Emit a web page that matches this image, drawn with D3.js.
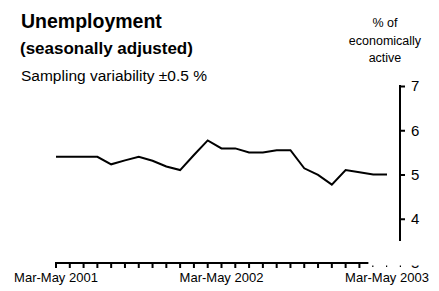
<!DOCTYPE html>
<html>
<head>
<meta charset="utf-8">
<script src="https://cdn.jsdelivr.net/npm/d3@7"></script>
<style>
body { margin: 0; background: #fff; }
text { font-family: "Liberation Sans", Arial, sans-serif; fill: #000; }
</style>
</head>
<body>
<div id="chart"></div>
<script>
// rolling three-month periods, Mar-May 2001 .. Mar-May 2003
var periods = d3.range(25);
var rates = [5.40, 5.40, 5.40, 5.40, 5.23, 5.32, 5.40, 5.31, 5.18, 5.10,
             5.44, 5.77, 5.59, 5.59, 5.50, 5.50, 5.55, 5.55, 5.14, 4.99,
             4.77, 5.10, 5.05, 5.00, 5.00];
var xLabels = [{i: 0, t: "Mar-May 2001"}, {i: 12, t: "Mar-May 2002"}, {i: 24, t: "Mar-May 2003"}];
var yTicks = [4, 5, 6, 7];
var unitLines = ["% of", "economically", "active"];

var W = 439, H = 291;

var svg = d3.select("#chart").append("svg")
    .attr("width", W)
    .attr("height", H);

var x = d3.scaleLinear().domain([0, 24]).range([56, 387]);
var y = d3.scaleLinear().domain([3, 7]).range([263, 86]);

// titles
svg.append("text").attr("x", 21).attr("y", 27.5)
    .style("font-size", "19.5px").style("font-weight", "bold")
    .text("Unemployment");
svg.append("text").attr("x", 20).attr("y", 54)
    .style("font-size", "17px").style("font-weight", "bold")
    .text("(seasonally adjusted)");
svg.append("text").attr("x", 21).attr("y", 81)
    .style("font-size", "15.5px")
    .text("Sampling variability \u00b10.5 %");

svg.selectAll(".unit")
    .data(unitLines)
    .enter().append("text")
    .attr("class", "unit")
    .attr("x", 385)
    .attr("y", function(d, i) { return 27 + i * 17.5; })
    .style("font-size", "12.5px")
    .style("text-anchor", "middle")
    .text(function(d) { return d; });

// x axis: solid line with ticks, last few ticks only faint stubs
var gx = svg.append("g")
    .attr("transform", "translate(0," + y(3) + ")");
gx.selectAll(".xtick")
    .data(d3.range(26))
    .enter().append("rect")
    .attr("class", "xtick")
    .attr("x", function(d) { return x(d) - 1; })
    .attr("y", function(d) { return d > 22 ? 2.5 : 0; })
    .attr("width", function(d) { return d > 22 ? 1.2 : 2; })
    .attr("height", function(d) { return d > 22 ? 1.5 : 5; })
    .attr("fill", "#000");
gx.append("rect")
    .attr("x", x(0) - 1).attr("y", -1)
    .attr("width", x(22.65) - x(0) + 1).attr("height", 2)
    .attr("fill", "#000");

svg.selectAll(".xlab")
    .data(xLabels)
    .enter().append("text")
    .attr("class", "xlab")
    .attr("x", function(d) { return x(d.i); })
    .attr("y", 282)
    .style("font-size", "13px")
    .style("text-anchor", "middle")
    .text(function(d) { return d.t; });

// y axis on the right
var yAxis = d3.axisRight(y)
    .tickValues(yTicks)
    .tickSize(5)
    .tickPadding(6)
    .tickSizeOuter(0)
    .tickFormat(d3.format("d"));
var gy = svg.append("g")
    .attr("transform", "translate(400,0)")
    .call(yAxis);
gy.select(".domain").remove();
gy.append("line")
    .attr("y1", y(7) - 1).attr("y2", y(3.5))
    .attr("stroke", "#000").attr("stroke-width", 2);
gy.selectAll(".tick line").attr("stroke", "#000").attr("stroke-width", 2);
gy.selectAll(".tick text")
    .style("font-size", "15px")
    .style("font-family", "'Liberation Sans', Arial, sans-serif");

// the "3" label is cut off, only its bottom shows
svg.append("clipPath").attr("id", "cut3")
    .append("rect").attr("x", 400).attr("y", 265.5).attr("width", 39).attr("height", 10);
svg.append("text")
    .attr("clip-path", "url(#cut3)")
    .attr("x", 411).attr("y", y(3)).attr("dy", "0.32em")
    .style("font-size", "15px")
    .text("3");

// series line
var line = d3.line()
    .x(function(d, i) { return x(periods[i]); })
    .y(function(d) { return y(d); });

svg.append("path")
    .datum(rates)
    .attr("fill", "none")
    .attr("stroke", "#000")
    .attr("stroke-width", 2)
    .attr("d", line);
</script>
</body>
</html>
